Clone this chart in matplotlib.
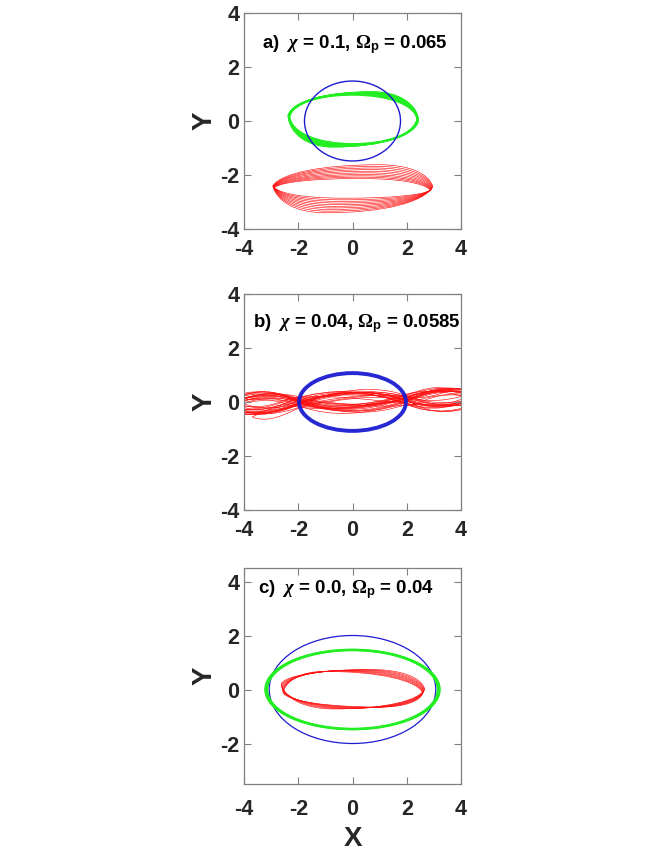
import numpy as np
import matplotlib
matplotlib.use('Agg')
import matplotlib.pyplot as plt
from matplotlib.patches import Ellipse, PathPatch
from matplotlib.path import Path

plt.rcParams['font.family'] = ['Liberation Sans', 'DejaVu Sans']
plt.rcParams['font.weight'] = 'bold'
plt.rcParams['axes.unicode_minus'] = False
plt.rcParams['mathtext.fontset'] = 'custom'
plt.rcParams['mathtext.rm'] = 'Liberation Serif'
plt.rcParams['mathtext.it'] = 'Liberation Serif:italic'
plt.rcParams['mathtext.bf'] = 'Liberation Sans:bold'

# Titulos dos paineis
labels = ['a)  $\\chi$ = 0.1, $\\Omega_{\\mathbf{p}}$ = 0.065',
          'b)  $\\chi$ = 0.04, $\\Omega_{\\mathbf{p}}$ = 0.0585',
          'c)  $\\chi$ = 0.0, $\\Omega_{\\mathbf{p}}$ = 0.04']

# Elipses azuis: centro, semi-eixos (x, y)
blue_a = [0.0, 0.0, 1.77, 1.48]
blue_b = [0.0, 0.0, 1.97, 1.07]
blue_c = [0.0, 0.0, 3.07, 2.0]

# Painel a) laços verdes: ponta esquerda L, topo T, ponta direita R, base B
green_a_Lx = [-2.37, -2.37, -2.36, -2.36, -2.35, -2.35, -2.34, -2.34, -2.33, -2.33, -2.32, -2.32]
green_a_Ly = [0.2, 0.19, 0.19, 0.18, 0.18, 0.17, 0.17, 0.16, 0.16, 0.15, 0.15, 0.14]
green_a_Tx = [0.75, 0.68, 0.61, 0.54, 0.47, 0.4, 0.33, 0.26, 0.19, 0.12, 0.05, -0.02]
green_a_Ty = [1.08, 1.07, 1.06, 1.05, 1.04, 1.03, 1.02, 1.01, 1.0, 0.99, 0.98, 0.96]
green_a_Rx = [2.43, 2.43, 2.42, 2.42, 2.41, 2.41, 2.4, 2.4, 2.39, 2.39, 2.38, 2.38]
green_a_Ry = [0.02, 0.03, 0.03, 0.04, 0.04, 0.05, 0.05, 0.06, 0.06, 0.07, 0.07, 0.08]
green_a_Bx = [-0.75, -0.68, -0.61, -0.54, -0.47, -0.4, -0.33, -0.26, -0.19, -0.12, -0.05, 0.02]
green_a_By = [-0.96, -0.95, -0.94, -0.93, -0.92, -0.91, -0.9, -0.89, -0.88, -0.87, -0.86, -0.84]

# Painel a) laços vermelhos
red_a_Lx = [-2.94, -2.93, -2.92, -2.92, -2.91, -2.9, -2.9, -2.89, -2.88, -2.88]
red_a_Ly = [-2.40, -2.41, -2.42, -2.42, -2.43, -2.44, -2.44, -2.45, -2.46, -2.46]
red_a_Tx = [1.0, 0.92, 0.84, 0.76, 0.68, 0.6, 0.52, 0.44, 0.36, 0.28]
red_a_Ty = [-1.62, -1.68, -1.74, -1.8, -1.86, -1.92, -1.98, -2.03, -2.08, -2.13]
red_a_Rx = [2.96, 2.95, 2.94, 2.93, 2.92, 2.91, 2.9, 2.89, 2.88, 2.87]
red_a_Ry = [-2.42, -2.44, -2.46, -2.48, -2.5, -2.52, -2.53, -2.54, -2.55, -2.56]
red_a_Bx = [-1.0, -0.92, -0.84, -0.76, -0.68, -0.6, -0.52, -0.44, -0.36, -0.28]
red_a_By = [-3.40, -3.34, -3.28, -3.22, -3.16, -3.1, -3.04, -2.98, -2.92, -2.86]

# Painel b) laços vermelhos: pontas, cruzamentos e alturas das lentes
red_b_xr = [4.6, 4.8, 5.0, 4.5, 4.7, 3.66, 4.9, 4.6, 5.1, 4.4, 4.8, 4.7, 4.5, 5.0, 4.6, 4.9, 4.7, 5.2]
red_b_yr = [0.15, 0.25, 0.1, 0.3, 0.2, 0.45, 0.05, 0.2, 0.3, 0.1, 0.25, 0.15, 0.35, 0.0, 0.2, 0.1, 0.28, 0.12]
red_b_xl = [-4.7, -4.5, -5.0, -4.8, -4.4, -4.9, -4.6, -5.1, -4.7, -4.5, -4.8, -4.6, -4.9, -4.4, -3.7, -5.0, -4.6, -4.8]
red_b_yl = [-0.1, -0.2, 0.0, -0.15, -0.05, -0.25, 0.05, -0.1, -0.2, 0.0, -0.15, -0.1, -0.3, 0.1, -0.55, -0.05, -0.12, -0.22]
red_b_xc2 = [1.7, 2.1, 1.9, 2.2, 1.8, 1.95, 2.3, 1.75, 2.05, 1.6, 1.85, 2.15, 1.9, 2.0, 1.8, 2.25, 1.95, 2.05]
red_b_yc2 = [0.05, 0.2, -0.05, 0.15, 0.1, 0.25, -0.1, 0.12, 0.05, 0.18, 0.0, 0.08, 0.22, -0.08, 0.1, 0.15, 0.06, 0.14]
red_b_xc1 = [-1.9, -1.7, -2.1, -2.2, -1.8, -1.95, -2.3, -1.75, -2.05, -1.6, -1.85, -2.15, -1.9, -2.0, -1.8, -2.25, -1.95, -2.05]
red_b_yc1 = [0.0, -0.1, 0.1, -0.15, 0.05, -0.05, 0.15, 0.0, -0.12, 0.08, -0.05, 0.1, -0.08, 0.05, -0.15, 0.12, -0.02, 0.04]
red_b_hc = [0.3, 0.14, 0.35, 0.2, 0.28, 0.33, 0.12, 0.3, 0.38, 0.22, 0.32, 0.17, 0.25, 0.36, 0.15, 0.27, 0.34, 0.24]
red_b_hr = [0.3, 0.25, 0.35, 0.28, 0.3, 0.15, 0.32, 0.27, 0.3, 0.25, 0.33, 0.29, 0.22, 0.3, 0.28, 0.26, 0.31, 0.27]
red_b_hl = [0.3, 0.28, 0.33, 0.25, 0.3, 0.3, 0.27, 0.35, 0.3, 0.26, 0.32, 0.28, 0.24, 0.3, 0.2, 0.29, 0.31, 0.27]

# Painel c) laços verdes (elipses) e vermelhos
green_c_a = [3.14, 3.17, 3.2, 3.22]
green_c_b = [1.45, 1.46, 1.47, 1.48]
red_c_Lx = [-2.63, -2.62, -2.61, -2.6, -2.59, -2.58, -2.57, -2.56]
red_c_Ly = [0.22, 0.17, 0.12, 0.07, 0.02, -0.03, -0.08, -0.13]
red_c_Tx = [0.7, 0.45, 0.2, -0.05, -0.3, -0.55, -0.8, -1.05]
red_c_Ty = [0.74, 0.73, 0.72, 0.71, 0.7, 0.69, 0.68, 0.67]
red_c_Rx = [2.66, 2.65, 2.64, 2.63, 2.62, 2.61, 2.6, 2.59]
red_c_Ry = [0.02, -0.01, -0.03, -0.05, -0.07, -0.09, -0.11, -0.13]
red_c_Bx = [-0.7, -0.45, -0.2, 0.05, 0.3, 0.55, 0.8, 1.05]
red_c_By = [-0.72, -0.71, -0.7, -0.69, -0.68, -0.67, -0.66, -0.65]


def lente(ax, L, T, R, B, p, q, **kw):
    # laço fechado L -> T -> R -> B -> L, pontas em L e R, tangente horizontal em T e B
    verts = [L]
    codes = [Path.MOVETO]
    for a, b, c in [(L, T, R), (R, B, L)]:
        dx, dy = b[0] - a[0], b[1] - a[1]
        verts += [(a[0] + p * dx, a[1] + q * dy), (b[0] - 0.55 * dx, b[1]), b]
        dx, dy = c[0] - b[0], c[1] - b[1]
        verts += [(b[0] + 0.55 * dx, b[1]), (c[0] - p * dx, c[1] - q * dy), c]
        codes += [Path.CURVE4] * 6
    ax.add_patch(PathPatch(Path(verts, codes), fill=False, **kw))


def lentes(ax, xs, ys, hs, **kw):
    verts = [(xs[0], ys[0])]
    codes = [Path.MOVETO]
    for i in range(len(hs)):
        dx = (xs[i + 1] - xs[i]) / 3
        H = 4 * hs[i] / 3
        verts += [(xs[i] + dx, ys[i] + H), (xs[i + 1] - dx, ys[i + 1] + H), (xs[i + 1], ys[i + 1])]
        codes += [Path.CURVE4] * 3
    ax.add_patch(PathPatch(Path(verts, codes), fill=False, **kw))


def elipse(ax, e, **kw):
    ax.add_patch(Ellipse((e[0], e[1]), 2 * e[2], 2 * e[3], fill=False, **kw))


RED = '#ff1010'
GREEN = '#22ee22'
BLUE = '#1c1cd0'

fig = plt.figure(figsize=(6.63, 8.58), dpi=100)
W, H = 217 / 663, 216 / 858
ax_a = fig.add_axes([244 / 663, 1 - 229 / 858, W, H])
ax_b = fig.add_axes([244 / 663, 1 - 510 / 858, W, H])
ax_c = fig.add_axes([244 / 663, 1 - 784 / 858, W, H])

# a)
for i in range(len(green_a_Lx)):
    lente(ax_a, (green_a_Lx[i], green_a_Ly[i]), (green_a_Tx[i], green_a_Ty[i]),
          (green_a_Rx[i], green_a_Ry[i]), (green_a_Bx[i], green_a_By[i]),
          0.04, 0.6, color=GREEN, lw=0.9)
elipse(ax_a, blue_a, color=BLUE, lw=1.0)
for i in range(len(red_a_Lx)):
    lente(ax_a, (red_a_Lx[i], red_a_Ly[i]), (red_a_Tx[i], red_a_Ty[i]),
          (red_a_Rx[i], red_a_Ry[i]), (red_a_Bx[i], red_a_By[i]),
          0.08, 0.6, color=RED, lw=0.45)

# b)
for i in range(len(red_b_xr)):
    xs = [red_b_xr[i], red_b_xc2[i], red_b_xc1[i], red_b_xl[i], red_b_xc1[i], red_b_xc2[i], red_b_xr[i]]
    ys = [red_b_yr[i], red_b_yc2[i], red_b_yc1[i], red_b_yl[i], red_b_yc1[i], red_b_yc2[i], red_b_yr[i]]
    hs = [red_b_hr[i], -red_b_hc[i], red_b_hl[i], -red_b_hl[i], red_b_hc[i], -red_b_hr[i]]
    lentes(ax_b, xs, ys, hs, color=RED, lw=0.45)
elipse(ax_b, blue_b, color=BLUE, lw=2.8, alpha=0.95)

# c)
elipse(ax_c, blue_c, color=BLUE, lw=0.9)
for i in range(len(green_c_a)):
    elipse(ax_c, [0.0, 0.0, green_c_a[i], green_c_b[i]], color=GREEN, lw=1.3)
for i in range(len(red_c_Lx)):
    lente(ax_c, (red_c_Lx[i], red_c_Ly[i]), (red_c_Tx[i], red_c_Ty[i]),
          (red_c_Rx[i], red_c_Ry[i]), (red_c_Bx[i], red_c_By[i]),
          0.06, 0.6, color=RED, lw=0.45)

text_pos = [(0.085, 0.856), (0.04, 0.864), (0.064, 0.90)]
for ax, lab, pos in zip([ax_a, ax_b, ax_c], labels, text_pos):
    ax.set_xlim(-4, 4)
    ax.set_xticks([-4, -2, 0, 2, 4])
    ax.tick_params(direction='in', top=True, right=True, length=5, width=0.8,
                   color='#808080', labelsize=15.5, labelcolor='#262626')
    ax.tick_params(axis='x', pad=7)
    for s in ax.spines.values():
        s.set_color('#808080')
        s.set_linewidth(0.9)
    ax.set_ylabel('Y', fontsize=20, fontweight='bold', color='#262626', labelpad=2)
    ax.text(pos[0], pos[1], lab, transform=ax.transAxes, fontsize=13.4,
            fontweight='bold', va='center', ha='left')

ax_a.set_ylim(-4, 4)
ax_a.set_yticks([-4, -2, 0, 2, 4])
ax_b.set_ylim(-4, 4)
ax_b.set_yticks([-4, -2, 0, 2, 4])
ax_c.set_ylim(-3.5, 4.5)
ax_c.set_yticks([-2, 0, 2, 4])
ax_c.tick_params(axis='x', pad=11)
ax_c.set_xlabel('X', fontsize=20, fontweight='bold', color='#262626', labelpad=4)

fig.savefig('out.png', dpi=100)
